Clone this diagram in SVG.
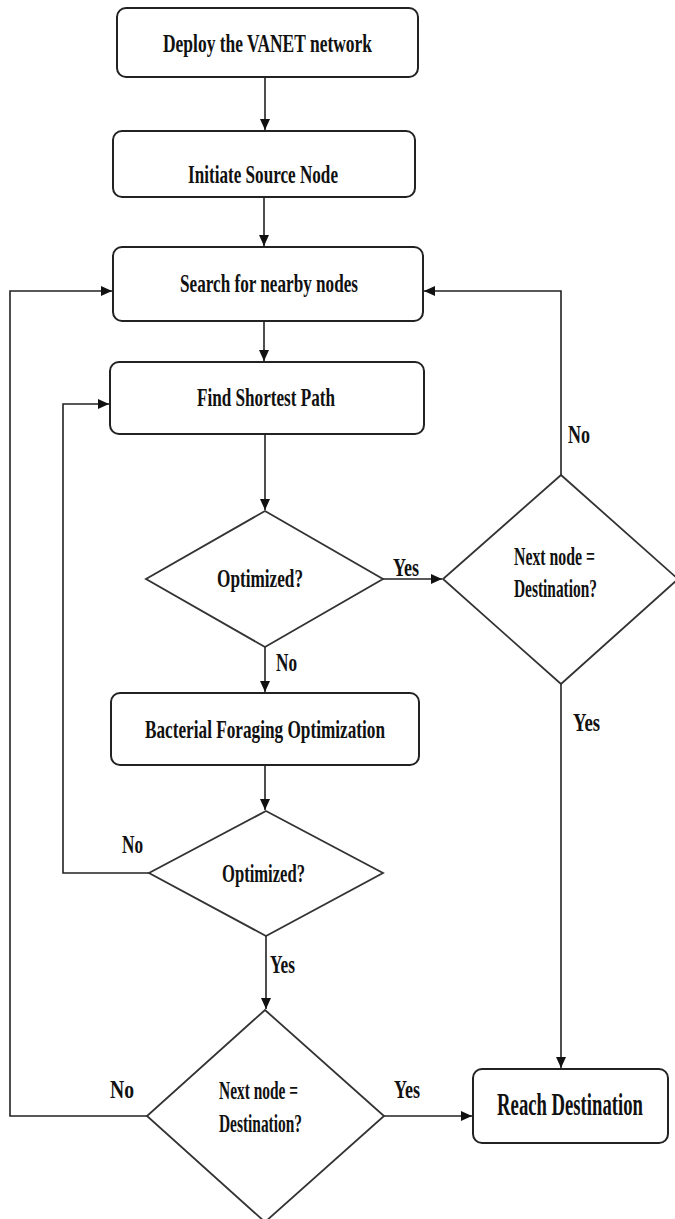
<svg xmlns="http://www.w3.org/2000/svg" width="675" height="1219" viewBox="0 0 675 1219">
<style>
.box{fill:#fff;stroke:#222;stroke-width:2}
.dia{fill:#fff;stroke:#333;stroke-width:1.8}
.ln{fill:none;stroke:#222;stroke-width:1.6}
.t{font-family:"Liberation Serif","Times New Roman",serif;font-weight:bold;font-size:26px;fill:#111}
.c{text-anchor:middle}
</style>
<defs>
<marker id="ah" markerUnits="userSpaceOnUse" markerWidth="12" markerHeight="12" viewBox="0 0 12 12" refX="11" refY="6" orient="auto">
<path d="M0,1 L11,6 L0,11 Z" fill="#111"/>
</marker>
</defs>
<rect width="675" height="1219" fill="#fff"/>
<g id="connectors">
<path class="ln" d="M265,77 V130" marker-end="url(#ah)"/>
<path class="ln" d="M264,197 V246" marker-end="url(#ah)"/>
<path class="ln" d="M264,321 V361" marker-end="url(#ah)"/>
<path class="ln" d="M265,434 V510" marker-end="url(#ah)"/>
<path class="ln" d="M383,579 H442" marker-end="url(#ah)"/>
<path class="ln" d="M561,475 V291 H424" marker-end="url(#ah)"/>
<path class="ln" d="M561,684 V1068" marker-end="url(#ah)"/>
<path class="ln" d="M265,647 V692" marker-end="url(#ah)"/>
<path class="ln" d="M265,765 V810" marker-end="url(#ah)"/>
<path class="ln" d="M149,873 H63 V404 H109" marker-end="url(#ah)"/>
<path class="ln" d="M266,936 V1009" marker-end="url(#ah)"/>
<path class="ln" d="M147,1116 H10 V291 H112" marker-end="url(#ah)"/>
<path class="ln" d="M384,1116 H472" marker-end="url(#ah)"/>
<text class="t" x="393" y="576" textLength="26" lengthAdjust="spacingAndGlyphs">Yes</text>
<text class="t" x="568" y="443" textLength="22" lengthAdjust="spacingAndGlyphs">No</text>
<text class="t" x="276" y="671" textLength="21" lengthAdjust="spacingAndGlyphs">No</text>
<text class="t" x="573" y="731" textLength="27" lengthAdjust="spacingAndGlyphs">Yes</text>
<text class="t" x="122" y="853" textLength="21" lengthAdjust="spacingAndGlyphs">No</text>
<text class="t" x="270" y="973" textLength="25" lengthAdjust="spacingAndGlyphs">Yes</text>
<text class="t" x="110" y="1098" textLength="24" lengthAdjust="spacingAndGlyphs">No</text>
<text class="t" x="394" y="1098" textLength="26" lengthAdjust="spacingAndGlyphs">Yes</text>
</g>
<g id="deploy">
<rect class="box" x="117" y="8" width="301" height="69" rx="9"/>
<text class="t c" x="267.5" y="52" textLength="209" lengthAdjust="spacingAndGlyphs">Deploy the VANET network</text>
</g>
<g id="initiate">
<rect class="box" x="113" y="131" width="302" height="66" rx="9"/>
<text class="t c" x="263" y="183" textLength="150" lengthAdjust="spacingAndGlyphs">Initiate Source Node</text>
</g>
<g id="search">
<rect class="box" x="113" y="247" width="310" height="74" rx="9"/>
<text class="t c" x="269" y="292" textLength="178" lengthAdjust="spacingAndGlyphs">Search for nearby nodes</text>
</g>
<g id="shortest">
<rect class="box" x="110" y="362" width="314" height="72" rx="9"/>
<text class="t c" x="266" y="406" textLength="138" lengthAdjust="spacingAndGlyphs">Find Shortest Path</text>
</g>
<g id="opt1">
<polygon class="dia" points="265,511 383,579 265,647 146,579"/>
<text class="t c" x="260" y="587" textLength="86" lengthAdjust="spacingAndGlyphs">Optimized?</text>
</g>
<g id="nextdest1">
<polygon class="dia" points="561,475 678,579 561,684 443,579"/>
<text class="t" x="514" y="565" textLength="81" lengthAdjust="spacingAndGlyphs">Next node =</text>
<text class="t" x="514" y="597" textLength="83" lengthAdjust="spacingAndGlyphs">Destination?</text>
</g>
<g id="bfo">
<rect class="box" x="111" y="693" width="308" height="72" rx="9"/>
<text class="t c" x="265" y="738" textLength="240" lengthAdjust="spacingAndGlyphs">Bacterial Foraging Optimization</text>
</g>
<g id="opt2">
<polygon class="dia" points="266,811 383,873 266,936 149,873"/>
<text class="t c" x="263.5" y="882" textLength="83" lengthAdjust="spacingAndGlyphs">Optimized?</text>
</g>
<g id="nextdest2">
<polygon class="dia" points="265,1010 384,1116 265,1222 147,1116"/>
<text class="t" x="219" y="1099" textLength="79" lengthAdjust="spacingAndGlyphs">Next node =</text>
<text class="t" x="219" y="1132" textLength="83" lengthAdjust="spacingAndGlyphs">Destination?</text>
</g>
<g id="reach">
<rect class="box" x="473" y="1069" width="195" height="74" rx="9"/>
<text class="t c" transform="translate(570,1115) scale(0.584,1)" x="0" y="0" style="font-size:32px">Reach Destination</text>
</g>
</svg>
